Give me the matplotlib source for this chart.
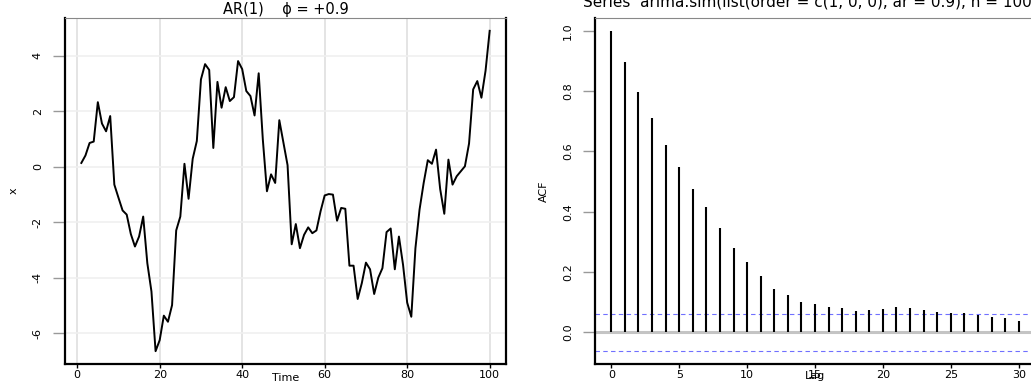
import matplotlib
matplotlib.use('Agg')
import matplotlib.pyplot as plt
import numpy as np
from matplotlib.transforms import Bbox

# AR(1) series, phi = +0.9
time = list(range(1, 101))
x_vals = [0.13, 0.40, 0.85, 0.90, 2.32, 1.55, 1.27, 1.82, -0.65, -1.12,
          -1.58, -1.73, -2.43, -2.88, -2.52, -1.80, -3.48, -4.50, -6.65, -6.25,
          -5.37, -5.59, -4.99, -2.30, -1.80, 0.10, -1.16, 0.28, 0.92, 3.14,
          3.69, 3.48, 0.67, 3.05, 2.12, 2.86, 2.36, 2.50, 3.80, 3.51,
          2.72, 2.54, 1.84, 3.36, 0.98, -0.89, -0.28, -0.59, 1.67, 0.86,
          0.05, -2.80, -2.07, -2.94, -2.46, -2.19, -2.40, -2.30, -1.61, -1.04,
          -0.99, -1.01, -1.95, -1.49, -1.52, -3.57, -3.57, -4.77, -4.20, -3.46,
          -3.70, -4.59, -4.00, -3.66, -2.36, -2.23, -3.70, -2.52, -3.54, -4.90,
          -5.41, -2.94, -1.55, -0.59, 0.23, 0.10, 0.61, -0.81, -1.70, 0.25,
          -0.65, -0.35, -0.17, 0.01, 0.83, 2.78, 3.08, 2.48, 3.45, 4.89]

# sample ACF of the simulated series
lags = list(range(0, 31))
acf_vals = [1.000, 0.895, 0.798, 0.712, 0.622, 0.549, 0.476, 0.416, 0.347, 0.281,
            0.235, 0.186, 0.143, 0.124, 0.102, 0.094, 0.086, 0.080, 0.071, 0.074,
            0.079, 0.084, 0.081, 0.074, 0.068, 0.066, 0.063, 0.058, 0.052, 0.047,
            0.038]
ci = 0.062

left_title = 'AR(1)    \u03d5 = +0.9'
right_title = 'Series  arima.sim(list(order = c(1, 0, 0), ar = 0.9), n = 1000)'

plt.rcParams['font.family'] = 'DejaVu Sans'
plt.rcParams['font.size'] = 8
plt.rcParams['axes.unicode_minus'] = False

W, H = 1031, 383
fig = plt.figure(figsize=(W / 100, H / 100), dpi=100)

def pos(l, r, t, b):
    return [l / W, (H - b) / H, (r - l) / W, (b - t) / H]

def pad(lo, hi):
    d = (hi - lo) * 0.04
    return lo - d, hi + d

def style(ax):
    for s in ['left', 'bottom', 'right']:
        ax.spines[s].set_color('black')
        ax.spines[s].set_linewidth(1.6)
    ax.spines['top'].set_color('#888888')
    ax.spines['top'].set_linewidth(0.8)
    ax.tick_params(axis='y', length=9, width=1, color='#999999', pad=7,
                   labelrotation=90, labelsize=8)
    ax.tick_params(axis='x', length=3, width=1, color='black', pad=1,
                   labelsize=8)
    for lab in ax.get_yticklabels():
        lab.set_va('center')

# left panel: time series
ax1 = fig.add_axes(pos(65, 506, 18, 364))
ax1.set_xlim(*pad(1, 100))
ax1.set_ylim(*pad(min(x_vals), max(x_vals)))
ax1.set_xticks([0, 20, 40, 60, 80, 100])
ax1.set_yticks([-6, -4, -2, 0, 2, 4])
for v in [0, 20, 40, 60, 80, 100]:
    ax1.axvline(v, color='#e2e2e2', lw=1.3, zorder=0)
for v in [-6, -4, -2, 0, 2, 4]:
    ax1.axhline(v, color='#f0f0f0', lw=1.2, zorder=0)
ax1.plot(time, x_vals, color='black', lw=1.4)
style(ax1)
ax1.set_xlabel('Time', labelpad=-5, fontsize=8)
ax1.set_ylabel('x', labelpad=10, fontsize=8)
ax1.set_title(left_title, fontsize=10.5, pad=3)

# right panel: ACF
ax2 = fig.add_axes(pos(595, 1035, 18, 364))
ax2.set_xlim(*pad(0, 30))
ax2.set_ylim(*pad(-ci, 1.0))
ax2.set_xticks([0, 5, 10, 15, 20, 25, 30])
ax2.set_yticks([0.0, 0.2, 0.4, 0.6, 0.8, 1.0])
ax2.set_yticklabels(['0.0', '0.2', '0.4', '0.6', '0.8', '1.0'])
ax2.axhline(0, color='#c4c4c4', lw=2.2, zorder=1)
ax2.vlines(lags, 0, acf_vals, color='black', lw=1.5, zorder=2)
for c in [ci, -ci]:
    ax2.axhline(c, color='#7070ff', lw=0.8, ls=(0, (4, 3)), zorder=1)
style(ax2)
ax2.set_xlabel('Lag', labelpad=-6, fontsize=8)
ax2.set_ylabel('ACF', labelpad=10, fontsize=8)
t2 = ax2.set_title(right_title, fontsize=11, pad=8)
t2.set_clip_on(True)
t2.set_clip_box(Bbox.from_extents(515, 0, W, H))

fig.savefig('out.png', dpi=100)
